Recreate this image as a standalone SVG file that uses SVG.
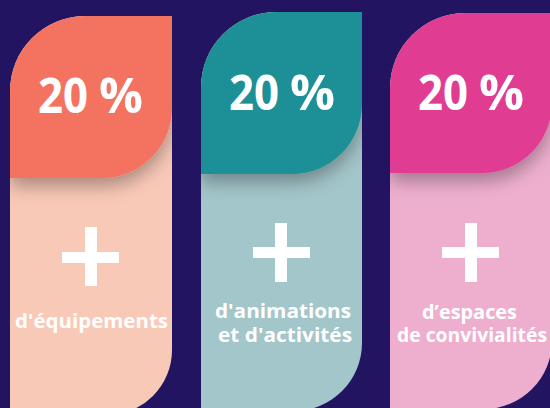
<svg xmlns="http://www.w3.org/2000/svg" width="550" height="408" viewBox="0 0 550 408">
  <style>
    .pct { font-family: "Open Sans", "DejaVu Sans", sans-serif; font-weight: 700; font-size: 49px; fill: #ffffff; }
    .lbl { font-family: "Open Sans", "DejaVu Sans", sans-serif; font-weight: 700; font-size: 20px; fill: #ffffff; }
    .plus { fill: #ffffff; }
  </style>
  <defs>
    <filter id="shadow" x="-30%" y="-30%" width="160%" height="160%">
      <feDropShadow dx="0" dy="8" stdDeviation="9" flood-color="#000000" flood-opacity="0.32"/>
    </filter>
    <clipPath id="clip1"><path d="M10,420 V91 A75,75 0 0 1 85,16 H172 V350 A65,65 0 0 1 107,415 Z"/></clipPath>
    <clipPath id="clip2"><path d="M201,420 V87 A75,75 0 0 1 276,12 H362 V343 A68,68 0 0 1 294,411 Z"/></clipPath>
    <clipPath id="clip3"><path d="M390,420 V88 A75,75 0 0 1 465,13 H552 V341 A68,68 0 0 1 484,409 Z"/></clipPath>
  </defs>
  <rect x="0" y="0" width="550" height="408" fill="#231461"/>

  <g id="card1">
    <path d="M10,420 V91 A75,75 0 0 1 85,16 H172 V350 A65,65 0 0 1 107,415 Z" fill="#f9c9b7"/>
    <g clip-path="url(#clip1)">
      <path d="M10,178 V91 A75,75 0 0 1 85,16 H172 V108 A70,70 0 0 1 102,178 Z" fill="#f37361" filter="url(#shadow)"/>
    </g>
    <text class="pct" x="38" y="113" textLength="50" lengthAdjust="spacingAndGlyphs">20</text>
    <text class="pct" x="99" y="113" textLength="44" lengthAdjust="spacingAndGlyphs">%</text>
    <rect class="plus" x="85" y="227" width="12" height="59"/>
    <rect class="plus" x="62" y="252" width="57" height="11"/>
    <text class="lbl" x="15" y="328" textLength="153" lengthAdjust="spacingAndGlyphs">d'équipements</text>
  </g>

  <g id="card2">
    <path d="M201,420 V87 A75,75 0 0 1 276,12 H362 V343 A68,68 0 0 1 294,411 Z" fill="#a3c6ca"/>
    <g clip-path="url(#clip2)">
      <path d="M201,174 V87 A75,75 0 0 1 276,12 H362 V104 A70,70 0 0 1 292,174 Z" fill="#1f9096" filter="url(#shadow)"/>
    </g>
    <text class="pct" x="229" y="110" textLength="50" lengthAdjust="spacingAndGlyphs">20</text>
    <text class="pct" x="290" y="110" textLength="45" lengthAdjust="spacingAndGlyphs">%</text>
    <rect class="plus" x="275" y="223" width="12" height="59"/>
    <rect class="plus" x="253" y="247" width="57" height="11"/>
    <text class="lbl" x="215" y="318" textLength="136" lengthAdjust="spacingAndGlyphs">d'animations</text>
    <text class="lbl" x="218" y="342" textLength="134" lengthAdjust="spacingAndGlyphs">et d'activités</text>
  </g>

  <g id="card3">
    <path d="M390,420 V88 A75,75 0 0 1 465,13 H552 V341 A68,68 0 0 1 484,409 Z" fill="#eeafce"/>
    <g clip-path="url(#clip3)">
      <path d="M390,173 V88 A75,75 0 0 1 465,13 H552 V103 A70,70 0 0 1 482,173 Z" fill="#e03d92" filter="url(#shadow)"/>
    </g>
    <text class="pct" x="418" y="110" textLength="50" lengthAdjust="spacingAndGlyphs">20</text>
    <text class="pct" x="479" y="110" textLength="45" lengthAdjust="spacingAndGlyphs">%</text>
    <rect class="plus" x="465" y="223" width="12" height="59"/>
    <rect class="plus" x="442" y="247" width="57" height="11"/>
    <text class="lbl" x="422" y="319" textLength="95" lengthAdjust="spacingAndGlyphs">d’espaces</text>
    <text class="lbl" x="397" y="342" textLength="150" lengthAdjust="spacingAndGlyphs">de convivialités</text>
  </g>
</svg>
